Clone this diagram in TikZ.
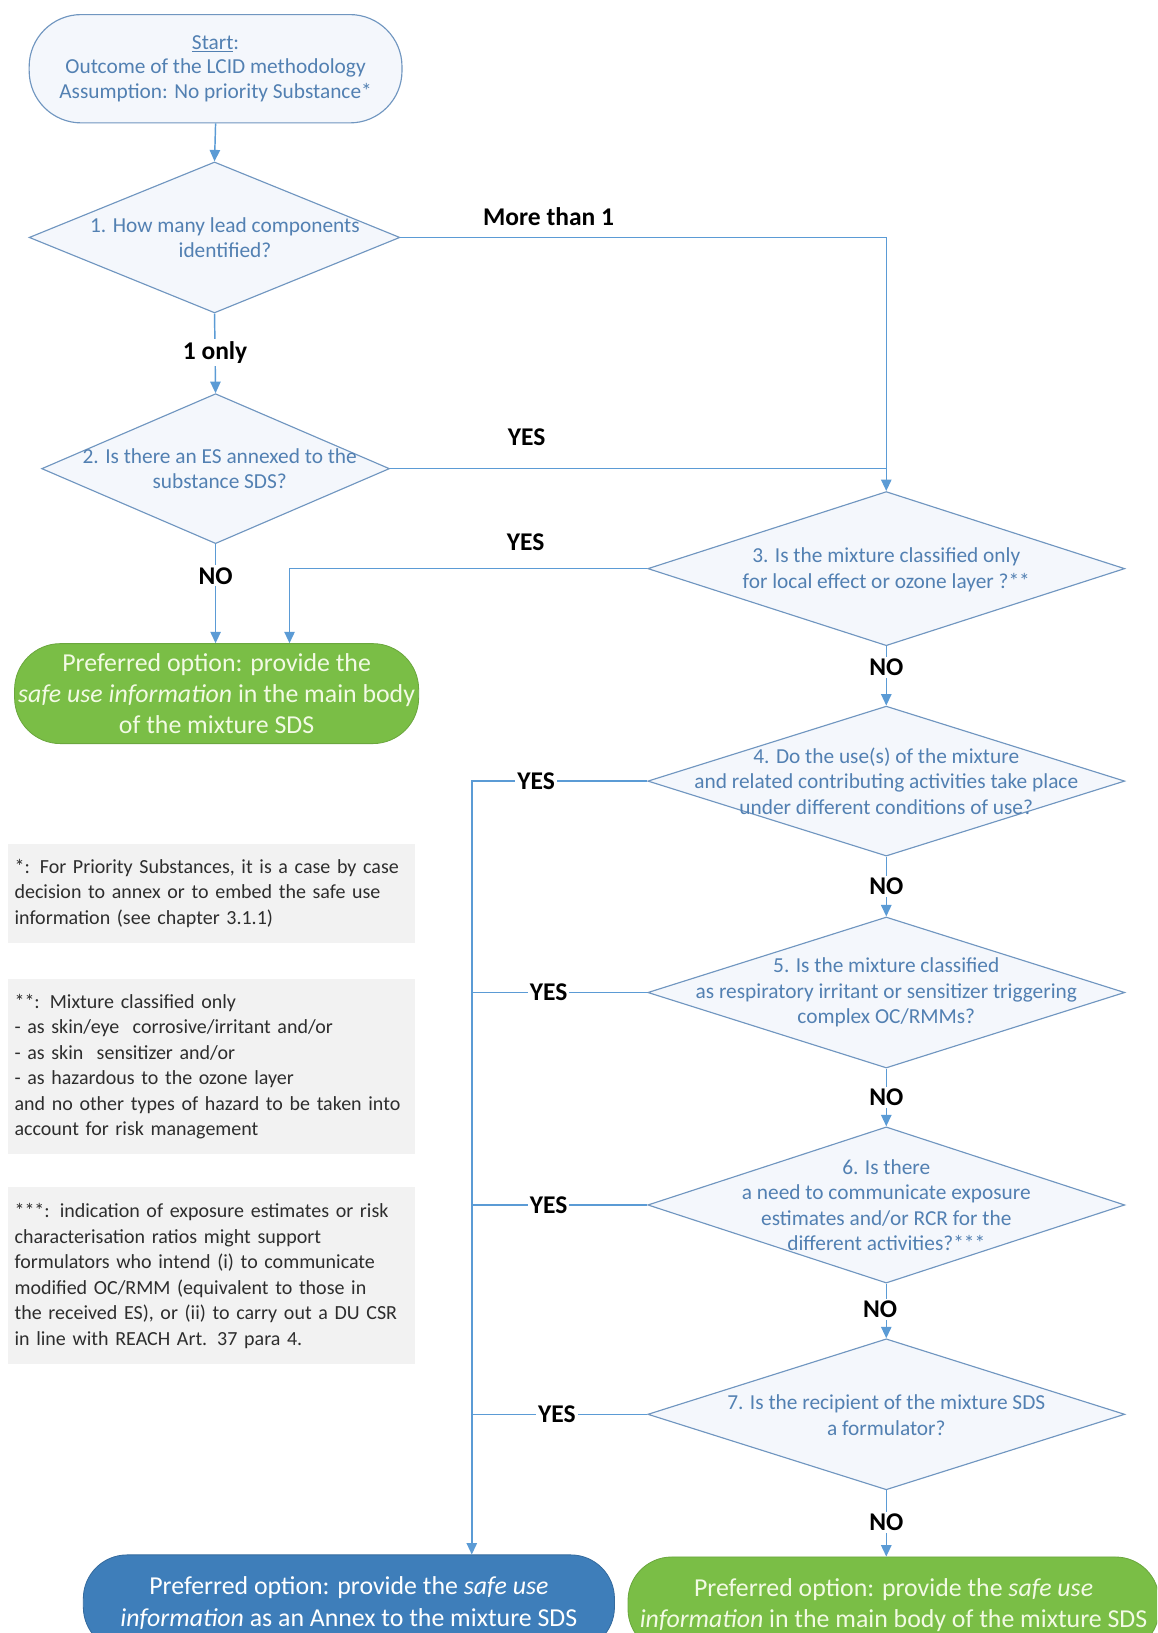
\documentclass[tikz,border=0pt]{standalone}
\usepackage{fontspec}
\setmainfont{Carlito}
\usetikzlibrary{shapes.geometric,arrows.meta}
\definecolor{lineblue}{RGB}{91,155,213}
\definecolor{dborder}{RGB}{112,150,192}
\definecolor{dfill}{RGB}{244,247,252}
\definecolor{dtextc}{RGB}{82,128,178}
\definecolor{greenbox}{RGB}{122,190,70}
\definecolor{greentext}{RGB}{242,250,228}
\definecolor{bluebox}{RGB}{62,126,186}
\definecolor{notefill}{RGB}{242,242,242}
\definecolor{notetext}{RGB}{45,45,45}
\begin{document}
\begin{tikzpicture}[x=1pt,y=-1pt,
  conn/.style={draw=lineblue, line width=1.4pt},
  arr/.style={conn, -{Triangle[width=10pt,length=11pt]}},
  dia/.style={diamond, draw=dborder, fill=dfill, line width=1.1pt, inner sep=0pt},
  dtext/.style={text=dtextc, font=\fontsize{20.5}{24.5}\selectfont, align=center},
  lbl/.style={font=\fontsize{24.5}{28}\selectfont\bfseries, text=black, inner sep=2pt},
  gbox/.style={rectangle, rounded corners=44pt, fill=greenbox, draw=greenbox!88!black, line width=0.8pt,
     text=greentext, font=\fontsize{24.8}{29.5}\selectfont, align=center},
  bbox/.style={rectangle, rounded corners=42pt, fill=bluebox, draw=bluebox!85!black, line width=0.8pt,
     text=white, font=\fontsize{24.8}{31}\selectfont, align=center},
  note/.style={rectangle, fill=notefill, text=notetext, font=\fontsize{19.2}{24.5}\selectfont,
     align=left, text width=378pt, inner xsep=6pt, inner ysep=3pt, minimum width=390pt}
]
\useasboundingbox (0,0) rectangle (1111,1568);
\clip (0,0) rectangle (1111,1568);

% start
\node[rectangle, rounded corners=50pt, draw=dborder, fill=dfill, line width=1.1pt,
      minimum width=358pt, minimum height=104pt, text=dtextc,
      font=\fontsize{20.5}{23.5}\selectfont, align=center] (start) at (207,66)
  {\underline{Start}:\\Outcome of the LCID methodology\\Assumption: No priority Substance*};

% diamonds
\node[dia, minimum width=356pt, minimum height=145pt] (d1) at (206,228) {};
\node[dtext] (t1) at (216,228) {1. How many lead components\\identified?};
\node[dia, minimum width=334pt, minimum height=144pt] (d2) at (207,450) {};
\node[dtext] (t2) at (211,450) {2. Is there an ES annexed to the\\substance SDS?};
\node[dia, minimum width=458pt, minimum height=148pt] (d3) at (851,546) {};
\node[dtext] (t3) at (851,547) {3. Is the mixture classified only\\for local effect or ozone layer ?**};
\node[dia, minimum width=458pt, minimum height=144pt] (d4) at (851,750) {};
\node[dtext] (t4) at (851,750) {4. Do the use(s) of the mixture\\and related contributing activities take place\\under different conditions of use?};
\node[dia, minimum width=458pt, minimum height=145pt] (d5) at (851,953) {};
\node[dtext] (t5) at (851,953) {5. Is the mixture classified\\as respiratory irritant or sensitizer triggering\\complex OC/RMMs?};
\node[dia, minimum width=458pt, minimum height=150pt] (d6) at (851,1157) {};
\node[dtext] (t6) at (851,1157) {6. Is there\\a need to communicate exposure\\estimates and/or RCR for the\\different activities?***};
\node[dia, minimum width=458pt, minimum height=145pt] (d7) at (851,1358) {};
\node[dtext] (t7) at (851,1359) {7. Is the recipient of the mixture SDS\\a formulator?};

% outcome boxes
\node[gbox, minimum width=388pt, minimum height=96pt] (g1) at (208,666)
  {Preferred option: provide the\\\textit{safe use information} in the main body\\of the mixture SDS};
\node[bbox, minimum width=510pt, minimum height=92pt] (bl) at (335,1539)
  {Preferred option: provide the \textit{safe use}\\\textit{information} as an Annex to the mixture SDS};
\node[gbox, rounded corners=42pt, minimum width=510pt, minimum height=92pt] (g2) at (858,1541)
  {Preferred option: provide the \textit{safe use}\\\textit{information} in the main body of the mixture SDS};

% notes
\node[note, minimum height=95pt] (n1) at (203,857.5)
  {*: For Priority Substances, it is a case by case\\decision to annex or to embed the safe use\\information (see chapter 3.1.1)};
\node[note, minimum height=168pt] (n2) at (203,1024)
  {**: Mixture classified only\\- as skin/eye\ \ corrosive/irritant and/or\\- as skin\ \ sensitizer and/or\\- as hazardous to the ozone layer\\and no other types of hazard to be taken into\\account for risk management};
\node[note, minimum height=170pt] (n3) at (203,1225)
  {***: indication of exposure estimates or risk\\characterisation ratios might support\\formulators who intend (i) to communicate\\modified OC/RMM (equivalent to those in\\the received ES), or (ii) to carry out a DU CSR\\in line with REACH Art. 37 para 4.};

% junction coordinates
\coordinate (c1) at (851,228);
\coordinate (c2) at (851,450);
\coordinate (c3) at (278,546);
\coordinate (j4) at (453,750);
\coordinate (j5) at (453,953);
\coordinate (j6) at (453,1157);
\coordinate (j7) at (453,1358);

% connectors
\draw[arr] (start.south) -- (d1.north);
\draw[arr] (d1.south) -- node[lbl, fill=white, pos=0.49]{1 only} (d2.north);
\draw[arr] (d1.east) -- node[lbl, pos=0.305, yshift=20pt]{More than 1} (c1) -- (d3.north);
\draw[conn] (d2.east) -- node[lbl, pos=0.275, yshift=30pt]{YES} (c2);
\draw[arr] (d2.south) -- node[lbl, fill=white, pos=0.32]{NO} (d2.south |- g1.north);
\draw[arr] (d3.west) -- node[lbl, pos=0.34, yshift=25pt]{YES} (c3) -- (c3 |- g1.north);
\draw[arr] (d3.south) -- node[lbl, fill=white, pos=0.36]{NO} (d4.north);
\draw[arr] (d4.south) -- node[lbl, fill=white, pos=0.5]{NO} (d5.north);
\draw[arr] (d5.south) -- node[lbl, fill=white, pos=0.5]{NO} (d6.north);
\draw[arr] (d6.south) -- node[lbl, fill=white, pos=0.47, xshift=-6pt]{NO} (d7.north);
\draw[arr] (d7.south) -- node[lbl, fill=white, pos=0.48]{NO} (d7.south |- g2.north);
\draw[arr] (d4.west) -- node[lbl, fill=white, pos=0.633]{YES} (j4) -- (j4 |- bl.north);
\draw[conn] (d5.west) -- node[lbl, fill=white, pos=0.562]{YES} (j5);
\draw[conn] (d6.west) -- node[lbl, fill=white, pos=0.562]{YES} (j6);
\draw[conn] (d7.west) -- node[lbl, fill=white, pos=0.515]{YES} (j7);
\end{tikzpicture}
\end{document}
